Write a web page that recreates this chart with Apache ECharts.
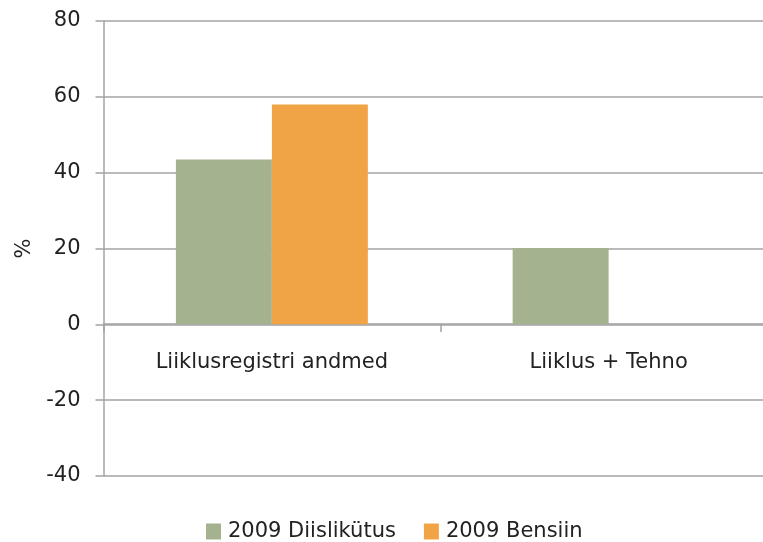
<!DOCTYPE html>
<html>
<head>
<meta charset="utf-8">
<script src="https://cdn.jsdelivr.net/npm/echarts@6/dist/echarts.min.js"></script>
<style>
  html, body { margin: 0; padding: 0; background: #fff; overflow: hidden; }
  /* joonis on laiem kui aken, parem serv jääb välja nagu originaalis */
  #main { width: 777px; height: 542px; }
</style>
</head>
<body>
<div id="main"></div>
<script>
// kategooriad ja andmed
var categories = ['Liiklusregistri andmed', 'Liiklus + Tehno'];
var diisel = [43.5, 20.1];
var bensiin = [58, null];
var seriesNames = ['2009 Diislikütus', '2009 Bensiin'];

var fontFam = 'DejaVu Sans';
var gridColor = '#a3a3a3';
var txtColor = '#222';

var myChart = echarts.init(document.getElementById('main'));
var option = {
  animation: false,
  textStyle: { fontFamily: fontFam },
  grid: {
    left: 103.5,
    right: 0,
    top: 21,
    bottom: 66
  },
  legend: {
    data: seriesNames,
    top: 516,
    left: 201,
    itemWidth: 15,
    itemHeight: 16,
    itemGap: 28,
    icon: 'rect',
    textStyle: { fontSize: 21, color: txtColor, fontFamily: fontFam, padding: [0, 0, 0, 2] }
  },
  xAxis: {
    type: 'category',
    data: categories,
    // telg nulli kohale koos siltidega
    offset: -152,
    axisLine: { onZero: false, lineStyle: { color: gridColor, width: 1.5 } },
    axisTick: { show: true, length: 8, lineStyle: { color: gridColor, width: 1.5 } },
    axisLabel: { fontSize: 21, color: txtColor, margin: 28 },
    splitLine: { show: false }
  },
  yAxis: {
    type: 'value',
    min: -40,
    max: 80,
    interval: 20,
    name: '%',
    nameLocation: 'middle',
    nameGap: 67,
    nameRotate: 90,
    nameTextStyle: { fontSize: 21, color: txtColor },
    axisLine: { show: true, lineStyle: { color: gridColor, width: 1.5 } },
    axisTick: { show: true, length: 8, lineStyle: { color: gridColor, width: 1.5 } },
    axisLabel: { fontSize: 21, color: txtColor, margin: 23 },
    splitLine: { show: true, lineStyle: { color: gridColor, width: 1.5 } }
  },
  series: [
    {
      name: seriesNames[0],
      type: 'bar',
      data: diisel,
      barGap: '0%',
      barCategoryGap: '43%',
      itemStyle: { color: '#a5b28f' }
    },
    {
      name: seriesNames[1],
      type: 'bar',
      data: bensiin,
      itemStyle: { color: '#f1a445' }
    }
  ]
};
myChart.setOption(option);
</script>
</body>
</html>
